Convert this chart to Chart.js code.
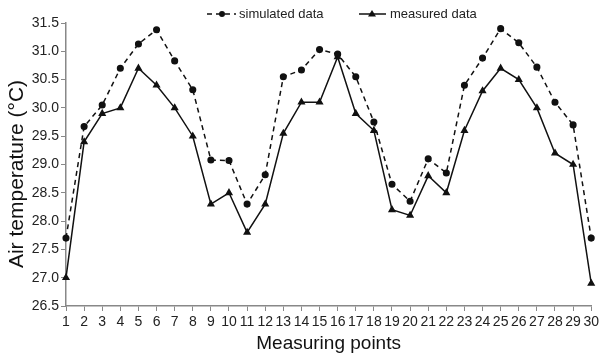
<!DOCTYPE html>
<html>
<head>
<meta charset="utf-8">
<script src="https://cdn.jsdelivr.net/npm/chart.js@4"></script>
<style>
  html, body { margin: 0; padding: 0; background: #fff; }
  #wrap { width: 602px; height: 355px; }
</style>
</head>
<body>
<div id="wrap"><canvas id="grafico" width="602" height="355"></canvas></div>
<script>
// puntos de medición
var puntos = [];
for (var i = 1; i <= 30; i++) { puntos.push(String(i)); }

// temperaturas simuladas (°C)
var simulados = [27.7, 29.67, 30.05, 30.7, 31.13, 31.38, 30.83, 30.32, 29.08, 29.07,
                 28.3, 28.82, 30.55, 30.67, 31.03, 30.95, 30.55, 29.75, 28.65, 28.35,
                 29.1, 28.85, 30.4, 30.88, 31.4, 31.15, 30.72, 30.1, 29.7, 27.7];

// temperaturas medidas (°C)
var medidos = [27.0, 29.4, 29.9, 30.0, 30.7, 30.4, 30.0, 29.5, 28.3, 28.5,
               27.8, 28.3, 29.55, 30.1, 30.1, 30.9, 29.9, 29.6, 28.2, 28.1,
               28.8, 28.5, 29.6, 30.3, 30.7, 30.5, 30.0, 29.2, 29.0, 26.9];

var fuente = "'Liberation Sans', Arial, sans-serif";

// leyenda y título del eje Y dibujados a mano
var leyenda = {
    id: 'leyenda',
    afterDraw: function (chart) {
        var ctx = chart.ctx;
        var y = 14;
        ctx.save();
        ctx.strokeStyle = '#111';
        ctx.fillStyle = '#111';
        ctx.lineWidth = 1.5;
        // simulados
        ctx.setLineDash([5, 4]);
        ctx.beginPath(); ctx.moveTo(207, y); ctx.lineTo(236, y); ctx.stroke();
        ctx.setLineDash([]);
        ctx.beginPath(); ctx.arc(222, y, 3, 0, Math.PI * 2); ctx.fill();
        // medidos
        ctx.beginPath(); ctx.moveTo(359, y); ctx.lineTo(386, y); ctx.stroke();
        ctx.beginPath(); ctx.moveTo(372, y - 4); ctx.lineTo(376, y + 2.5); ctx.lineTo(368, y + 2.5); ctx.closePath(); ctx.fill();
        ctx.font = '13px ' + fuente;
        ctx.textBaseline = 'middle';
        ctx.fillStyle = '#222';
        ctx.fillText('simulated data', 239, y + 0.5);
        ctx.fillText('measured data', 390, y + 0.5);
        // título eje Y
        ctx.translate(17, 174);
        ctx.rotate(-Math.PI / 2);
        ctx.textAlign = 'center';
        ctx.fillStyle = '#111';
        ctx.font = '21px ' + fuente;
        ctx.fillText('Air temperature (°C)', 0, 0);
        ctx.restore();
    }
};

new Chart(document.getElementById('grafico').getContext('2d'), {
    type: 'line',
    data: {
        labels: puntos,
        datasets: [{
            label: 'simulated data',
            data: simulados,
            borderColor: '#111',
            backgroundColor: '#111',
            borderWidth: 1.5,
            borderDash: [5, 4],
            pointStyle: 'circle',
            pointRadius: 2.8,
            tension: 0
        }, {
            label: 'measured data',
            data: medidos,
            borderColor: '#111',
            backgroundColor: '#111',
            borderWidth: 1.5,
            pointStyle: 'triangle',
            pointRadius: 3.2,
            tension: 0
        }]
    },
    options: {
        responsive: false,
        animation: false,
        layout: { padding: { top: 23, right: 7, left: 0, bottom: 0 } },
        plugins: { legend: { display: false }, tooltip: { enabled: false } },
        scales: {
            x: {
                offset: false,
                border: { color: '#888', width: 1.5 },
                grid: { drawOnChartArea: false, color: '#888', tickLength: 5 },
                ticks: {
                    autoSkip: false, maxRotation: 0, padding: 3,
                    color: '#222', font: { family: fuente, size: 14 }
                },
                title: {
                    display: true, text: 'Measuring points', color: '#111',
                    font: { family: fuente, size: 19 }, padding: { top: 0, bottom: 0 }
                },
                afterFit: function (scale) { scale.height = 49; }
            },
            y: {
                min: 26.5, max: 31.5,
                border: { color: '#888', width: 1.5 },
                grid: { drawOnChartArea: false, color: '#888', tickLength: 5 },
                ticks: {
                    stepSize: 0.5, padding: 2, color: '#222',
                    font: { family: fuente, size: 14 },
                    callback: function (v) { return v.toFixed(1); }
                },
                afterFit: function (scale) { scale.width = 66; }
            }
        }
    },
    plugins: [leyenda]
});
</script>
</body>
</html>
